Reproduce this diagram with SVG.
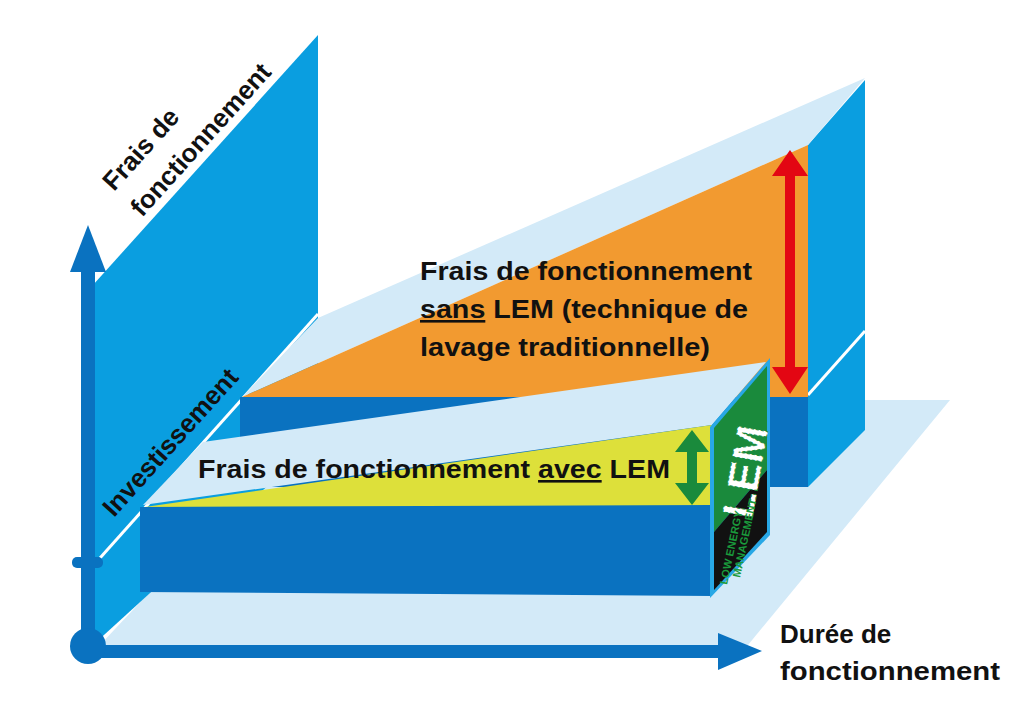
<svg xmlns="http://www.w3.org/2000/svg" width="1024" height="715" viewBox="0 0 1024 715">
<style>
.t{font-family:"Liberation Sans",Arial,sans-serif;font-weight:bold;fill:#111}
.mid{fill:#0a9ee0}.dark{fill:#0a72c0}.light{fill:#d3eaf8}
</style>
<rect width="1024" height="715" fill="#fff"/>
<polygon class="light" points="100,645 748,645 950,400 330,400"/>
<polygon class="mid" points="93,285 318,35 318,440 93,645"/>
<line x1="100" y1="558" x2="318" y2="314" stroke="#fff" stroke-width="3"/>
<polygon class="mid" points="808,145 865,80 865,430 808,487"/>
<line x1="808" y1="395" x2="865" y2="331" stroke="#fff" stroke-width="3"/>
<rect class="dark" x="240" y="397" width="568" height="90"/>
<polygon class="light" points="242,397 318,318 865,78 808,145"/>
<polygon fill="#f29a30" points="242,397 808,145 808,397"/>
<polygon class="light" points="143,505 203,442 766,362 712,425"/>
<polygon fill="#dde03a" points="145,507 712,425 712,507"/>
<polygon class="dark" points="140,507 712,505 712,596 140,592"/>
<polygon fill="#28a8e6" points="710,427 770,358 770,535 710,598"/>
<polygon fill="#1a8a3c" points="714,428 767,366 767,470 714,532"/>
<polygon fill="#111" points="714,532 767,470 767,532 714,590"/>
<text transform="translate(752,520) rotate(-80)" font-family="Liberation Sans Narrow,Liberation Sans,sans-serif" font-weight="bold" font-size="44" fill="#fff" stroke="#1a8a3c" stroke-width="1" stroke-dasharray="3 2">LEM</text>
<text transform="translate(727,585) rotate(-78)" font-family="Liberation Sans Narrow,Liberation Sans,sans-serif" font-weight="bold" font-size="11" fill="#1a9a3c">LOW ENERGY</text>
<text transform="translate(740,578) rotate(-78)" font-family="Liberation Sans Narrow,Liberation Sans,sans-serif" font-weight="bold" font-size="11" fill="#1a9a3c">MANAGEMENT</text>
<g id="arrows">
<polygon fill="#e30613" points="790,150 808,176 795,176 795,367 808,367 790,394 772,367 785,367 785,176 772,176"/>
<polygon fill="#1a8a3c" points="692,430 709,452 697,452 697,483 709,483 692,505 675,483 687,483 687,452 675,452"/>
</g>
<g id="axes" class="dark">
<rect x="81" y="268" width="14" height="380"/>
<polygon points="88,225 106,272 70,272"/>
<rect x="72" y="557" width="31" height="11" rx="5"/>
<rect x="88" y="645" width="640" height="13"/>
<polygon points="762,651 718,633 718,670"/>
<circle cx="88" cy="646" r="18"/>
</g>
<text class="t" font-size="26" transform="translate(114,192) rotate(-48)">Frais de</text>
<text class="t" font-size="26" transform="translate(142,218) rotate(-48)">fonctionnement</text>
<text class="t" font-size="26" transform="translate(114,518) rotate(-48)">Investissement</text>
<text class="t" font-size="26" x="420" y="280" textLength="332" lengthAdjust="spacingAndGlyphs">Frais de fonctionnement</text>
<text class="t" font-size="26" x="420" y="318" textLength="328" lengthAdjust="spacingAndGlyphs"><tspan text-decoration="underline">sans</tspan> LEM (technique de</text>
<text class="t" font-size="26" x="420" y="356" textLength="290" lengthAdjust="spacingAndGlyphs">lavage traditionnelle)</text>
<text class="t" font-size="26" x="198" y="478" textLength="472" lengthAdjust="spacingAndGlyphs">Frais de fonctionnement <tspan text-decoration="underline">avec</tspan> LEM</text>
<text class="t" font-size="26" x="780" y="643">Durée de</text>
<text class="t" font-size="26" x="780" y="680" textLength="220" lengthAdjust="spacingAndGlyphs">fonctionnement</text>
</svg>
